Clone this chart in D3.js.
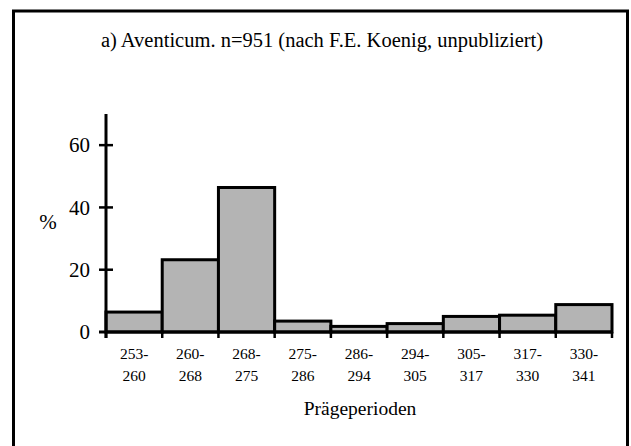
<!DOCTYPE html>
<html>
<head>
<meta charset="utf-8">
<script src="https://cdn.jsdelivr.net/npm/d3@7"></script>
<style>
  body { margin: 0; background: #fff; }
  svg { display: block; font-family: "Liberation Serif", "Times New Roman", serif; }
</style>
</head>
<body>
<svg width="631" height="446"></svg>
<script>
// data: minting periods (start / end) and share of coins in %
var periodStart = ["253-", "260-", "268-", "275-", "286-", "294-", "305-", "317-", "330-"];
var periodEnd = ["260", "268", "275", "286", "294", "305", "317", "330", "341"];
var percent = [6.4, 23.2, 46.4, 3.5, 1.8, 2.7, 5.0, 5.4, 8.8];
var yTicks = [0, 20, 40, 60];

var svg = d3.select("svg"),
  width = +svg.attr("width"),
  height = +svg.attr("height");

// outer frame (bottom edge runs off the page)
svg.append("rect")
  .attr("x", 13.5)
  .attr("y", 11)
  .attr("width", 614)
  .attr("height", 450)
  .attr("fill", "none")
  .attr("stroke", "#000")
  .attr("stroke-width", 3);

svg.append("text")
  .attr("x", 322)
  .attr("y", 47)
  .attr("text-anchor", "middle")
  .attr("font-size", 20.5)
  .attr("fill", "#000")
  .text("a) Aventicum. n=951 (nach F.E. Koenig, unpubliziert)");

var x = d3.scaleBand()
  .domain(d3.range(percent.length))
  .range([106, 612])
  .padding(0);

var y = d3.scaleLinear()
  .domain([0, 70])
  .range([332, 114]);

// bars
svg.append("g")
  .selectAll("rect")
  .data(percent)
  .enter().append("rect")
    .attr("x", function(d, i) { return x(i); })
    .attr("y", function(d) { return y(d); })
    .attr("width", x.bandwidth())
    .attr("height", function(d) { return y(0) - y(d); })
    .attr("fill", "#b4b4b4")
    .attr("stroke", "#000")
    .attr("stroke-width", 3);

// y axis
var yAxis = svg.append("g")
  .attr("transform", "translate(106,0)")
  .call(d3.axisLeft(y).tickValues(yTicks).tickSize(0).tickPadding(16));
yAxis.select(".domain").remove();
yAxis.selectAll("text")
  .attr("font-family", "Liberation Serif")
  .attr("font-size", 21)
  .attr("fill", "#000");

svg.append("line")
  .attr("x1", 106).attr("x2", 106)
  .attr("y1", y(70)).attr("y2", y(0) + 6)
  .attr("stroke", "#000")
  .attr("stroke-width", 3);

svg.append("g")
  .selectAll("line")
  .data(yTicks.filter(function(d) { return d > 0; }))
  .enter().append("line")
    .attr("x1", 99).attr("x2", 113)
    .attr("y1", function(d) { return y(d); })
    .attr("y2", function(d) { return y(d); })
    .attr("stroke", "#000")
    .attr("stroke-width", 2.5);

// x axis baseline and boundary ticks
svg.append("line")
  .attr("x1", 99).attr("x2", 613)
  .attr("y1", y(0)).attr("y2", y(0))
  .attr("stroke", "#000")
  .attr("stroke-width", 3);

svg.append("g")
  .selectAll("line")
  .data(d3.range(percent.length + 1))
  .enter().append("line")
    .attr("x1", function(i) { return i < percent.length ? x(i) : x(i - 1) + x.bandwidth(); })
    .attr("x2", function(i) { return i < percent.length ? x(i) : x(i - 1) + x.bandwidth(); })
    .attr("y1", y(0))
    .attr("y2", y(0) + 6)
    .attr("stroke", "#000")
    .attr("stroke-width", 2.5);

// two-line period labels
var lab = svg.append("g")
  .selectAll("text")
  .data(periodStart)
  .enter().append("text")
    .attr("text-anchor", "middle")
    .attr("font-size", 15.5)
    .attr("fill", "#000");
lab.append("tspan")
  .attr("x", function(d, i) { return x(i) + x.bandwidth() / 2; })
  .attr("y", 359)
  .text(function(d) { return d; });
lab.append("tspan")
  .attr("x", function(d, i) { return x(i) + x.bandwidth() / 2; })
  .attr("y", 381)
  .text(function(d, i) { return periodEnd[i]; });

svg.append("text")
  .attr("x", 360)
  .attr("y", 415)
  .attr("text-anchor", "middle")
  .attr("font-size", 19.5)
  .attr("fill", "#000")
  .text("Prägeperioden");

svg.append("text")
  .attr("x", 48)
  .attr("y", 229)
  .attr("text-anchor", "middle")
  .attr("font-size", 21)
  .attr("fill", "#000")
  .text("%");
</script>
</body>
</html>
